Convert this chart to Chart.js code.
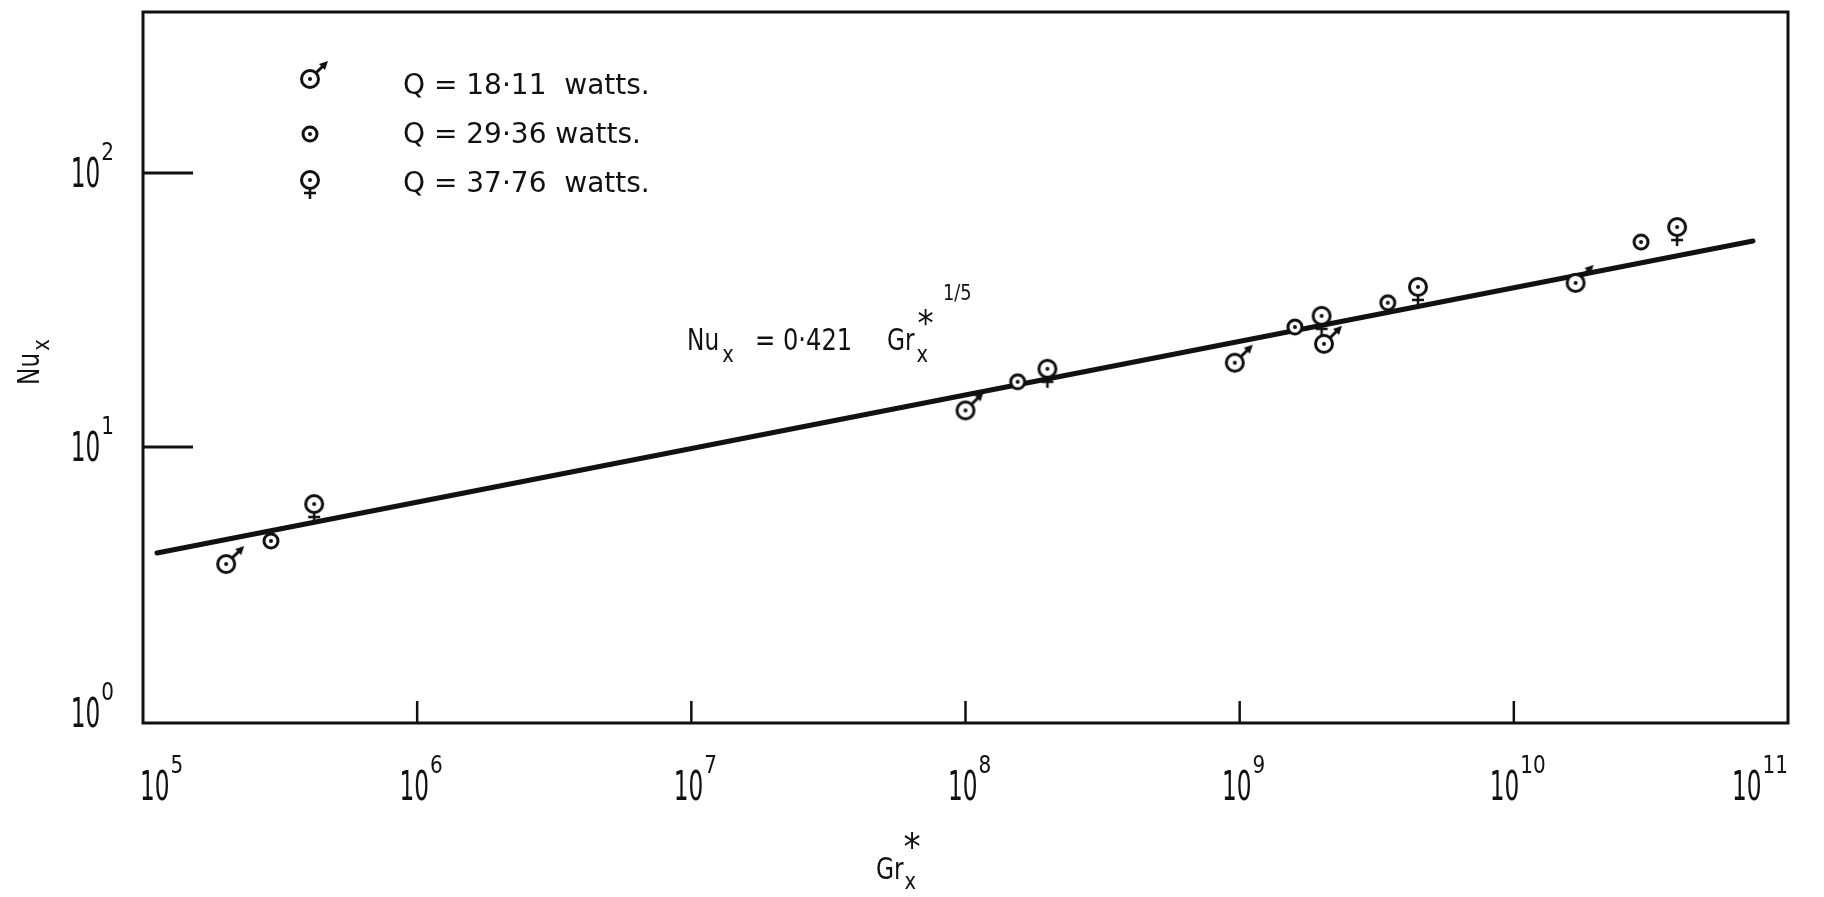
<!DOCTYPE html>
<html>
<head>
<meta charset="utf-8">
<script src="https://cdn.jsdelivr.net/npm/chart.js@4/dist/chart.umd.min.js"></script>
<style>
  html, body { margin: 0; padding: 0; background: #fff; }
  #wrap { width: 1824px; height: 897px; }
</style>
</head>
<body>
<div id="wrap"><canvas id="chart" width="1824" height="897"></canvas></div>
<script>
// Nu_x against Gr_x* for three heat inputs, log-log, with the 1/5 power fit

// Q = 18.11 watts (male symbol)
var grA = [2.01e5, 1.0e8, 9.6e8, 2.03e9, 1.68e10];
var nuA = [3.74, 13.6, 20.3, 23.8, 39.7];
// Q = 29.36 watts (dot in circle)
var grB = [2.93e5, 1.55e8, 1.59e9, 3.47e9, 2.91e10];
var nuB = [4.54, 17.3, 27.4, 33.6, 56.0];
// Q = 37.76 watts (female symbol)
var grC = [4.21e5, 1.99e8, 1.99e9, 4.47e9, 3.94e10];
var nuC = [6.19, 19.3, 30.1, 38.4, 63.5];
// fitted line ends, Nu_x = 0.421 Gr_x*^(1/5)
var fitGr = [1.125e5, 7.45e10];
var fitNu = [4.10, 56.5];

var xExp = [5, 6, 7, 8, 9, 10, 11];
var yExp = [0, 1, 2];
var legendText = ['Q = 18\u00b711  watts.', 'Q = 29\u00b736 watts.', 'Q = 37\u00b776  watts.'];

var INK = '#111';
var FONT = '"DejaVu Sans", sans-serif';

function pts(xs, ys) {
    return xs.map(function(v, i) { return { x: v, y: ys[i] }; });
}

// little hand-drawn style symbols used as point styles
function makeSymbol(kind) {
    var c = document.createElement('canvas');
    c.width = 56; c.height = 56;
    var g = c.getContext('2d');
    var cx = 28, cy = 28;
    var r = kind === 'dot' ? 7 : 8.5;
    g.strokeStyle = INK;
    g.fillStyle = INK;
    if (kind === 'male') {
        g.lineWidth = 3;
        g.beginPath();
        g.moveTo(cx + r * 0.7, cy - r * 0.7);
        g.lineTo(cx + 13, cy - 13);
        g.stroke();
        g.beginPath();
        g.moveTo(cx + 18, cy - 18);
        g.lineTo(cx + 9, cy - 15);
        g.lineTo(cx + 15, cy - 9);
        g.closePath();
        g.fill();
    }
    if (kind === 'female') {
        g.lineWidth = 2.5;
        g.beginPath();
        g.moveTo(cx, cy + r);
        g.lineTo(cx, cy + 19);
        g.moveTo(cx - 6, cy + 13);
        g.lineTo(cx + 6, cy + 13);
        g.stroke();
    }
    g.lineWidth = 3;
    g.beginPath();
    g.arc(cx, cy, r, 0, Math.PI * 2);
    g.fillStyle = '#fff';
    g.fill();
    g.stroke();
    g.beginPath();
    g.arc(cx, cy, 2, 0, Math.PI * 2);
    g.fillStyle = INK;
    g.fill();
    return c;
}

var symA = makeSymbol('male');
var symB = makeSymbol('dot');
var symC = makeSymbol('female');

function txt(ctx, s, x, y, size, hs, align, weight) {
    ctx.save();
    ctx.font = (weight || 'normal') + ' ' + size + 'px ' + FONT;
    ctx.textBaseline = 'alphabetic';
    ctx.textAlign = 'left';
    var w = ctx.measureText(s).width * hs;
    var x0 = x;
    if (align === 'center') x0 = x - w / 2;
    else if (align === 'right') x0 = x - w;
    ctx.translate(x0, y);
    ctx.scale(hs, 1);
    ctx.fillStyle = INK;
    ctx.fillText(s, 0, 0);
    ctx.restore();
    return w;
}

function measure(ctx, s, size, hs, weight) {
    ctx.save();
    ctx.font = (weight || 'normal') + ' ' + size + 'px ' + FONT;
    var w = ctx.measureText(s).width * hs;
    ctx.restore();
    return w;
}

// "10" with a raised exponent
function powLabel(ctx, e, x, base, align) {
    var w10 = measure(ctx, '10', 40, 0.58);
    var wSup = measure(ctx, String(e), 25, 0.8);
    var gap = 1;
    var total = w10 + gap + wSup;
    var x0 = x;
    if (align === 'center') x0 = x - total / 2;
    else if (align === 'right') x0 = x - total;
    txt(ctx, '10', x0, base, 40, 0.58);
    txt(ctx, String(e), x0 + w10 + gap, base - 27, 25, 0.8);
}

var decorPlugin = {
    id: 'decor',
    afterDraw: function(chart) {
        var ctx = chart.ctx;
        var ca = chart.chartArea;
        var xs = chart.scales.x, ys = chart.scales.y;
        ctx.save();
        ctx.strokeStyle = INK;

        // frame
        ctx.lineWidth = 3;
        ctx.strokeRect(ca.left, ca.top, ca.right - ca.left, ca.bottom - ca.top);

        // inward ticks
        ctx.lineWidth = 3;
        yExp.forEach(function(e) {
            if (e === yExp[0]) return;
            var py = ys.getPixelForValue(Math.pow(10, e));
            ctx.beginPath();
            ctx.moveTo(ca.left, py);
            ctx.lineTo(ca.left + 50, py);
            ctx.stroke();
        });
        ctx.lineWidth = 2.5;
        xExp.forEach(function(e, i) {
            if (i === 0 || i === xExp.length - 1) return;
            var px = xs.getPixelForValue(Math.pow(10, e));
            ctx.beginPath();
            ctx.moveTo(px, ca.bottom);
            ctx.lineTo(px, ca.bottom - 22);
            ctx.stroke();
        });

        // tick labels
        xExp.forEach(function(e, i) {
            var px = xs.getPixelForValue(Math.pow(10, e));
            if (i === 0) powLabel(ctx, e, px - 3, ca.bottom + 77, 'left');
            else if (i === xExp.length - 1) powLabel(ctx, e, px, ca.bottom + 77, 'right');
            else powLabel(ctx, e, px + 4, ca.bottom + 77, 'center');
        });
        yExp.forEach(function(e) {
            var py = ys.getPixelForValue(Math.pow(10, e));
            var base = Math.min(py + 14, ca.bottom + 4);
            powLabel(ctx, e, ca.left - 29, base, 'right');
        });

        // axis titles
        var gx = ca.left + 733, gy = ca.bottom + 156;
        var wg = txt(ctx, 'Gr', gx, gy, 31, 0.75);
        txt(ctx, 'x', gx + wg + 1, gy + 10, 23, 0.85);
        txt(ctx, '*', gx + wg, gy - 19, 38, 0.9);

        ctx.save();
        ctx.translate(39, ca.top + 373);
        ctx.rotate(-Math.PI / 2);
        var wn = txt(ctx, 'Nu', 0, 0, 31, 0.75);
        txt(ctx, 'x', wn + 2, 10, 23, 0.85);
        ctx.restore();

        // legend
        var syms = [symA, symB, symC];
        var rows = [79, 134, 180];
        var bases = [94, 143, 192];
        syms.forEach(function(s, i) {
            ctx.drawImage(s, ca.left + 167 - s.width / 2, rows[i] - s.height / 2);
            txt(ctx, legendText[i], ca.left + 260, bases[i], 28, 1);
        });

        // fit annotation
        var ax = ca.left + 544, ay = ca.top + 338;
        var w1 = txt(ctx, 'Nu', ax, ay, 31, 0.75);
        txt(ctx, 'x', ax + w1 + 3, ay + 12, 23, 0.85);
        txt(ctx, '= 0\u00b7421', ax + 68, ay, 31, 0.78);
        var w2 = txt(ctx, 'Gr', ax + 200, ay, 31, 0.75);
        txt(ctx, 'x', ax + 200 + w2 + 2, ay + 12, 23, 0.85);
        txt(ctx, '*', ax + 200 + w2 + 3, ay - 15, 36, 0.9);
        txt(ctx, '1/5', ax + 256, ay - 50, 21, 0.85);

        ctx.restore();
    }
};

document.addEventListener('DOMContentLoaded', function() {
    var ctx = document.getElementById('chart').getContext('2d');
    new Chart(ctx, {
        type: 'scatter',
        data: {
            datasets: [{
                label: legendText[0],
                data: pts(grA, nuA),
                pointStyle: symA,
                pointRadius: 8
            }, {
                label: legendText[1],
                data: pts(grB, nuB),
                pointStyle: symB,
                pointRadius: 8
            }, {
                label: legendText[2],
                data: pts(grC, nuC),
                pointStyle: symC,
                pointRadius: 8
            }, {
                label: 'fit',
                data: pts(fitGr, fitNu),
                showLine: true,
                borderColor: INK,
                borderWidth: 5,
                pointRadius: 0,
                borderCapStyle: 'round'
            }]
        },
        options: {
            responsive: false,
            animation: false,
            devicePixelRatio: 1,
            layout: { padding: { top: 12, right: 36, left: 0, bottom: 0 } },
            plugins: {
                legend: { display: false },
                tooltip: { enabled: false }
            },
            scales: {
                x: {
                    type: 'logarithmic',
                    min: 1e5,
                    max: 1e11,
                    grid: { display: false },
                    border: { display: false },
                    ticks: { display: false },
                    afterBuildTicks: function(s) {
                        s.ticks = xExp.map(function(e) { return { value: Math.pow(10, e) }; });
                    },
                    afterFit: function(s) { s.height = 174; }
                },
                y: {
                    type: 'logarithmic',
                    min: 0.983,
                    max: 387,
                    grid: { display: false },
                    border: { display: false },
                    ticks: { display: false },
                    afterBuildTicks: function(s) {
                        s.ticks = yExp.map(function(e) { return { value: Math.pow(10, e) }; });
                    },
                    afterFit: function(s) { s.width = 143; }
                }
            }
        },
        plugins: [decorPlugin]
    });
});
</script>
</body>
</html>
